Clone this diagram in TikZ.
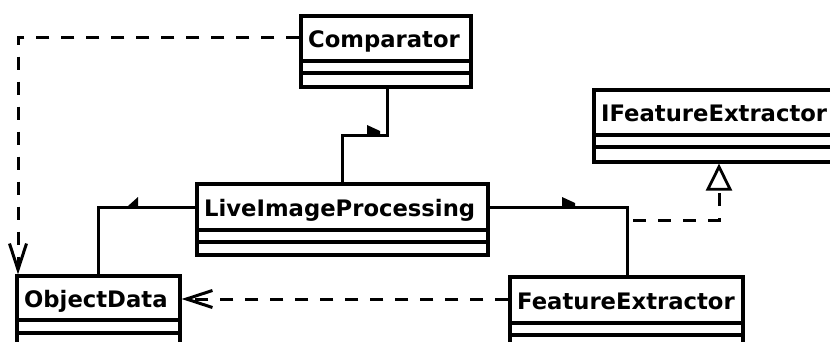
\documentclass[tikz,border=0pt]{standalone}
\usepackage{fontspec}
\setmainfont{DejaVu Sans}
\usetikzlibrary{arrows.meta,fit}
\tikzset{
  classbox/.style={draw, line width=3.2pt, inner sep=0pt, fill=none},
  compline/.style={line width=3.2pt},
  classname/.style={anchor=base west, inner sep=0pt, font=\fontsize{22.7}{27}\selectfont\bfseries},
  assoc/.style={line width=3pt},
  navtip/.style={fill=black, draw=none},
  depend/.style={line width=3pt, dash pattern=on 13pt off 12pt},
  vtip/.style={-{Straight Barb[length=26pt,width=17pt,line width=3pt]}},
  realtip/.style={-{Triangle[open,length=27pt,width=26pt,line width=2.8pt,fill=white]}}
}
\newcommand\umlclass[8]{%
  \node[classbox, fit={(#2,#3)(#4,#5)}] (#1) {};
  \draw[compline] (#2,#6) -- (#4,#6);
  \draw[compline] (#2,#7) -- (#4,#7);
  \node[classname] (#1-name) at ({#2+7},{(#3+#6)/2+9}) {#8};
}
\begin{document}
\begin{tikzpicture}[x=1pt,y=-1pt]
\clip (0,0) rectangle (830,342);
\fill[white] (0,0) rectangle (830,342);

\umlclass{cmp}{301}{16}{471}{87}{61}{73}{Comparator}
\umlclass{ife}{594}{90}{860}{162}{135}{147}{IFeatureExtractor}
\umlclass{lip}{197}{184}{488}{255}{230}{242}{LiveImageProcessing}
\umlclass{od}{17}{276}{180}{370}{320}{333}{ObjectData}
\umlclass{fe}{510}{277}{743}{370}{323}{335}{FeatureExtractor}

% helper coordinates
\coordinate (xa) at (387,0);
\coordinate (xb) at (342,0);
\coordinate (ya) at (0,136);
\coordinate (yb) at (0,207);
\coordinate (xc) at (98,0);
\coordinate (xd) at (627,0);
\coordinate (ye) at (0,38);
\coordinate (xe) at (18,0);
\coordinate (yf) at (0,299);
\coordinate (real0) at (633,220);
\coordinate (xg) at (719,0);

% Comparator -- LiveImageProcessing
\draw[assoc] (cmp.south -| xa) |- (xb |- ya) -- (lip.north -| xb);
\fill[navtip] (367,125) -- (380,131) -- (380,136) -- (367,136) -- cycle;

% LiveImageProcessing -- ObjectData
\draw[assoc] (lip.west |- yb) -| (od.north -| xc);
\fill[navtip] (128,206) -- (138,197) -- (138,208) -- (128,208) -- cycle;

% LiveImageProcessing -- FeatureExtractor
\draw[assoc] (lip.east |- yb) -| (fe.north -| xd);
\fill[navtip] (562,197) -- (575,203) -- (575,208) -- (562,208) -- cycle;

% Comparator ..> ObjectData
\draw[depend, vtip] (cmp.west |- ye) -| (od.north -| xe);

% FeatureExtractor ..> ObjectData
\draw[depend, vtip] (fe.west |- yf) -- (od.east |- yf);

% FeatureExtractor ..|> IFeatureExtractor
\draw[depend, realtip] (real0) -| (ife.south -| xg);
\end{tikzpicture}
\end{document}
